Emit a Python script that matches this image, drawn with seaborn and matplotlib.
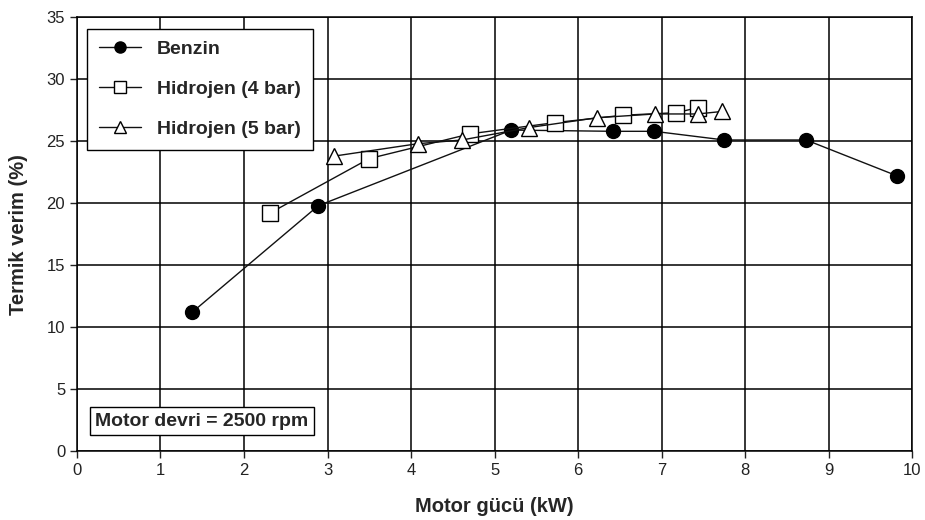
import pandas as pd
import matplotlib
matplotlib.use('Agg')
import matplotlib.pyplot as plt
import seaborn as sns

# Values
benzin_x = [1.38, 2.89, 5.20, 6.42, 6.91, 7.75, 8.73, 9.82]
benzin_y = [11.2, 19.8, 25.9, 25.8, 25.8, 25.1, 25.1, 22.2]

h4_x = [2.31, 3.50, 4.71, 5.72, 6.54, 7.17, 7.43]
h4_y = [19.2, 23.6, 25.6, 26.5, 27.1, 27.3, 27.7]

h5_x = [3.08, 4.08, 4.61, 5.41, 6.23, 6.92, 7.43, 7.72]
h5_y = [23.8, 24.8, 25.1, 26.1, 26.9, 27.2, 27.2, 27.4]

x_ticks = list(range(0, 11))
y_ticks = list(range(0, 36, 5))

series = [
    ('Benzin', benzin_x, benzin_y, 'o', 'black'),
    ('Hidrojen (4 bar)', h4_x, h4_y, 's', 'white'),
    ('Hidrojen (5 bar)', h5_x, h5_y, '^', 'white'),
]

sns.set_style('white')
plt.rcParams['font.family'] = ['Liberation Sans', 'DejaVu Sans']

fig = plt.figure(figsize=(9.25, 5.2), dpi=100)
ax = fig.add_axes([0.0832, 0.1327, 0.903, 0.834])

# one line per fuel, markers like the original
for name, xs, ys, mk, fc in series:
    df = pd.DataFrame({'x': xs, 'y': ys})
    sns.lineplot(data=df, x='x', y='y', ax=ax, sort=False, color='#111111',
                 linewidth=1.0, marker=mk, markersize=10 if mk == 'o' else 11,
                 markerfacecolor=fc, markeredgecolor='black',
                 markeredgewidth=1.0, label=name, zorder=3)

ax.set_xlim(0, 10)
ax.set_ylim(0, 35)
ax.set_xticks(x_ticks)
ax.set_yticks(y_ticks)
ax.grid(True, color='black', linewidth=1.1)
ax.set_axisbelow(True)
for sp in ax.spines.values():
    sp.set_color('black')
    sp.set_linewidth(1.1)
ax.tick_params(direction='out', length=5, width=1, colors='#222222',
               labelsize=12, bottom=True, left=True)

ax.set_xlabel('Motor gücü (kW)', fontsize=14.5, fontweight='bold', labelpad=14)
ax.set_ylabel('Termik verim (%)', fontsize=14.5, fontweight='bold', labelpad=13)

leg = ax.legend(loc='upper left', bbox_to_anchor=(0.012, 0.973),
                prop={'weight': 'bold', 'size': 14}, frameon=True,
                fancybox=False, edgecolor='black', framealpha=1,
                handlelength=2.2, labelspacing=1.15, borderpad=0.6,
                handletextpad=0.8, borderaxespad=0)
leg.get_frame().set_linewidth(1.0)
for h in leg.legend_handles:
    h.set_markersize(8)

ax.text(0.022, 0.069, 'Motor devri = 2500 rpm', transform=ax.transAxes,
        fontsize=14, fontweight='bold', va='center', ha='left',
        bbox=dict(boxstyle='square,pad=0.3', facecolor='white',
                  edgecolor='black', linewidth=1.0), zorder=5)

fig.savefig('out.png', dpi=100)
